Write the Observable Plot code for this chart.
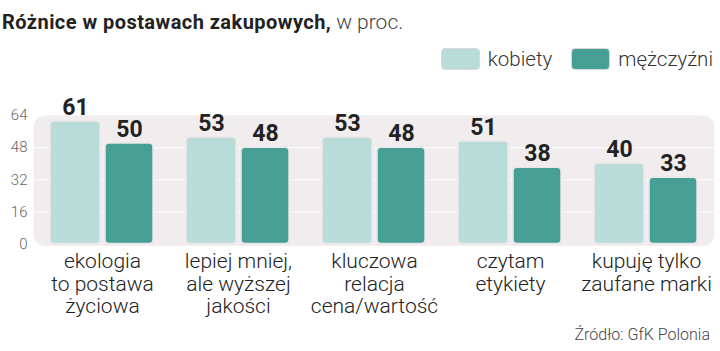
<!DOCTYPE html>
<html>
<head>
<meta charset="utf-8">
<script src="https://cdn.jsdelivr.net/npm/d3@7"></script>
<script src="https://cdn.jsdelivr.net/npm/@observablehq/plot@0.6"></script>
<style>
  html, body { margin: 0; padding: 0; background: #fff; }
  body { width: 720px; height: 351px; position: relative; overflow: hidden; font-family: Roboto, "Noto Sans", sans-serif; color: #222; }
  #title { position: absolute; left: 2px; top: 12px; font-size: 20px; line-height: 20px; white-space: nowrap; }
  #title b { font-weight: 700; color: #222; letter-spacing: 0.45px; }
  #title span { font-weight: 300; color: #444; font-size: 21px; }
  #legend { position: absolute; right: 7px; top: 48px; display: flex; align-items: center; height: 22px; }
  #legend .sw { width: 37px; height: 20px; border: 1px solid #dcd8da; border-radius: 4px; margin-right: 8px; }
  #legend .lb { font-size: 20.5px; line-height: 20px; font-weight: 300; color: #333; margin-right: 19px; }
  #legend .lb:last-child { margin-right: 0; }
  #chart { position: absolute; left: 0; top: 80px; }
  #source { position: absolute; right: 10px; top: 327px; font-size: 16px; line-height: 16px; font-weight: 300; color: #444; }
  #chart g[aria-label="y-axis tick label"] text { fill: #666; }
  #chart g[aria-label="x-axis tick label"] text { fill: #222; }
</style>
</head>
<body>
<div id="title"><b>Różnice w postawach zakupowych,</b> <span>w proc.</span></div>
<div id="legend"></div>
<div id="chart"></div>
<div id="source">Źródło: GfK Polonia</div>
<script>
const categories = [
  "ekologia\nto postawa\nżyciowa",
  "lepiej mniej,\nale wyższej\njakości",
  "kluczowa\nrelacja\ncena/wartość",
  "czytam\netykiety",
  "kupuję tylko\nzaufane marki"
];
const series = ["kobiety", "mężczyźni"];
const kobiety = [61, 53, 53, 51, 40];
const mezczyzni = [50, 48, 48, 38, 33];
const yTicks = [0, 16, 32, 48, 64];
const colors = ["#b9dcd9", "#469f95"];

const dataK = categories.map((c, i) => ({category: c, series: series[0], value: kobiety[i]}));
const dataM = categories.map((c, i) => ({category: c, series: series[1], value: mezczyzni[i]}));

// legend
const legend = document.getElementById("legend");
series.forEach((s, i) => {
  const sw = document.createElement("div");
  sw.className = "sw";
  sw.style.background = colors[i];
  const lb = document.createElement("div");
  lb.className = "lb";
  lb.textContent = s;
  legend.appendChild(sw);
  legend.appendChild(lb);
});

const barStyle = {stroke: "#ebe7e9", strokeWidth: 1.5, rx: 4};

const plot = Plot.plot({
  width: 720,
  height: 250,
  marginLeft: 34,
  marginRight: 6,
  marginTop: 35,
  marginBottom: 86.5,
  style: {fontFamily: "Roboto, sans-serif", background: "transparent"},
  x: {domain: categories, padding: 0, label: null},
  y: {domain: [0, 64], label: null},
  marks: [
    Plot.frame({fill: "#f1edef", stroke: null, rx: 12, insetBottom: -2, insetLeft: -1}),
    Plot.gridY(yTicks.slice(1, 4), {stroke: "#ffffff", strokeOpacity: 0.9, strokeWidth: 1}),
    Plot.axisY({ticks: yTicks, tickSize: 0, tickPadding: 7, fontSize: 15, fontWeight: 300, label: null}),
    Plot.axisX({tickSize: 0, tickPadding: 8, fontSize: 21, fontWeight: 300, lineHeight: 1.08, label: null}),
    Plot.barY(dataK, {x: "category", y: "value", fill: colors[0], insetLeft: 16, insetRight: 70, ...barStyle}),
    Plot.barY(dataM, {x: "category", y: "value", fill: colors[1], insetLeft: 71, insetRight: 17, ...barStyle}),
    Plot.text(dataK, {x: "category", y: "value", text: d => String(d.value), dx: -27, dy: -14, fontSize: 23, fontWeight: 700, fill: "#222", fontFamily: "Roboto, sans-serif"}),
    Plot.text(dataM, {x: "category", y: "value", text: d => String(d.value), dx: 27, dy: -14, fontSize: 23, fontWeight: 700, fill: "#222", fontFamily: "Roboto, sans-serif"})
  ]
});
document.getElementById("chart").appendChild(plot);
</script>
</body>
</html>
